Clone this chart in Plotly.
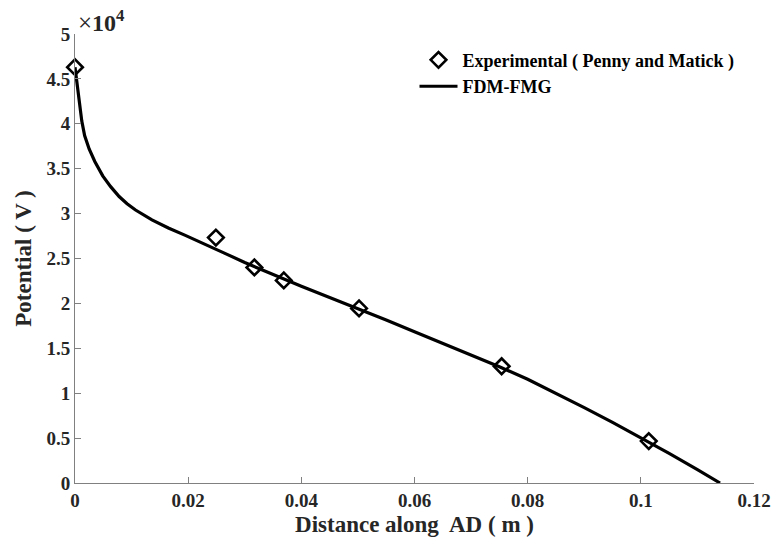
import plotly.graph_objects as go

# Experimental data (Penny and Matick)
exp_x = [0.0, 0.0249, 0.0317, 0.0369, 0.0502, 0.0754, 0.1014]
exp_y = [46300, 27330, 24000, 22560, 19440, 13000, 4670]

# FDM-FMG computed curve
fdm_x = [0.0, 0.0006, 0.0012, 0.0017, 0.0025, 0.0035, 0.0049, 0.0063, 0.0078,
         0.0092, 0.0107, 0.0136, 0.0165, 0.0194, 0.0223, 0.0264, 0.030, 0.035,
         0.040, 0.045, 0.050, 0.055, 0.060, 0.065, 0.070, 0.075, 0.080, 0.085,
         0.090, 0.095, 0.100, 0.105, 0.110, 0.114]
fdm_y = [46300, 43300, 40300, 38700, 37200, 35800, 34200, 33000, 31900,
         31100, 30400, 29300, 28400, 27600, 26800, 25600, 24550, 23200,
         21900, 20650, 19440, 18150, 16850, 15550, 14250, 12950, 11550, 10000,
         8400, 6750, 5050, 3300, 1500, 0]

x_ticks = [0, 0.02, 0.04, 0.06, 0.08, 0.1, 0.12]
x_ticktext = ["0", "0.02", "0.04", "0.06", "0.08", "0.1", "0.12"]
y_ticks = [0, 5000, 10000, 15000, 20000, 25000, 30000, 35000, 40000, 45000, 50000]
y_ticktext = ["0", "0.5", "1", "1.5", "2", "2.5", "3", "3.5", "4", "4.5", "5"]

FONT = "Liberation Serif"
AXC = "#808080"
TXT = "#262626"

fig = go.Figure()
fig.add_trace(go.Scatter(
    x=exp_x, y=exp_y, mode="markers", name="Experimental ( Penny and Matick )",
    marker=dict(symbol="diamond-open", size=12, color="black", line=dict(width=2.6, color="black")),
    cliponaxis=False,
))
fig.add_trace(go.Scatter(
    x=fdm_x, y=fdm_y, mode="lines", name="FDM-FMG",
    line=dict(color="black", width=3.2),
    cliponaxis=False,
))

fig.update_layout(
    width=783, height=545,
    margin=dict(l=75, r=19, t=34, b=61),
    paper_bgcolor="white", plot_bgcolor="white",
    font=dict(family=FONT, size=16, color=TXT, weight="bold"),
    showlegend=True,
    legend=dict(x=0.5, y=0.983, xanchor="left", yanchor="top",
                bgcolor="rgba(0,0,0,0)", font=dict(size=18, color="black", weight="bold"),
                tracegroupgap=0, itemwidth=38),
    xaxis=dict(range=[0, 0.12], tickvals=x_ticks, ticktext=x_ticktext,
               showgrid=False, zeroline=False, showline=True, linecolor=AXC, linewidth=1,
               ticks="inside", ticklen=6, tickcolor=AXC, tickwidth=1,
               tickfont=dict(size=19, family=FONT, color=TXT, weight="bold"),
               title=dict(text="Distance along\u00a0 AD ( m )", standoff=6,
                          font=dict(size=23, family=FONT, color=TXT, weight="bold"))),
    yaxis=dict(range=[0, 50000], tickvals=y_ticks, ticktext=y_ticktext,
               showgrid=False, zeroline=False, showline=True, linecolor=AXC, linewidth=1,
               ticks="inside", ticklen=6, tickcolor=AXC, tickwidth=1,
               tickfont=dict(size=19, family=FONT, color=TXT, weight="bold"),
               title=dict(text="Potential ( V )", standoff=8,
                          font=dict(size=23, family=FONT, color=TXT, weight="bold"))),
    annotations=[dict(text="<span style='font-size:25px;font-weight:normal'>×</span>"
                           "<span style='font-size:24px'>10</span><sup>4</sup>",
                      xref="paper", yref="paper", x=0.0, y=1.0,
                      xanchor="left", yanchor="bottom", showarrow=False, xshift=1, yshift=-4,
                      font=dict(size=24, family=FONT, color=TXT, weight="bold"))],
)

fig.write_html("out.html")
